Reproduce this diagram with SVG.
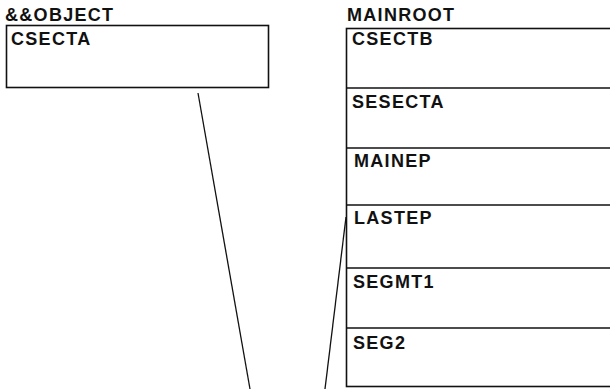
<svg xmlns="http://www.w3.org/2000/svg" width="610" height="389" viewBox="0 0 610 389">
<style>
.t{font-family:"Liberation Sans",Arial,sans-serif;font-weight:bold;font-size:18px;letter-spacing:1.3px;fill:#111}
.b{fill:#fff;stroke:#111;stroke-width:1.6}
.c{stroke:#111;stroke-width:1.3;fill:none}
.d{stroke:#111;stroke-width:1.6}
</style>
<rect width="610" height="389" fill="#fff"/>
<g id="object">
<text class="t" x="5" y="21">&amp;&amp;OBJECT</text>
<rect class="b" x="6.5" y="25.5" width="262" height="62"/>
<text class="t" x="11" y="45">CSECTA</text>
</g>
<g id="mainroot">
<text class="t" x="347" y="21">MAINROOT</text>
<rect class="b" x="346.5" y="28.5" width="270" height="358"/>
</g>
<g id="csectb"><text class="t" x="352" y="45">CSECTB</text></g>
<g id="sesecta"><line class="d" x1="346" y1="88" x2="612" y2="88"/><text class="t" x="352" y="108">SESECTA</text></g>
<g id="mainep"><line class="d" x1="346" y1="148" x2="612" y2="148"/><text class="t" x="354" y="167">MAINEP</text></g>
<g id="lastep"><line class="d" x1="346" y1="205" x2="612" y2="205"/><text class="t" x="354" y="224">LASTEP</text></g>
<g id="segmt1"><line class="d" x1="346" y1="268" x2="612" y2="268"/><text class="t" x="353" y="288">SEGMT1</text></g>
<g id="seg2"><line class="d" x1="346" y1="328" x2="612" y2="328"/><text class="t" x="353" y="349">SEG2</text></g>
<g id="connectors">
<line class="c" x1="198" y1="93" x2="250" y2="389"/>
<line class="c" x1="346" y1="217" x2="325" y2="389"/>
</g>
</svg>
